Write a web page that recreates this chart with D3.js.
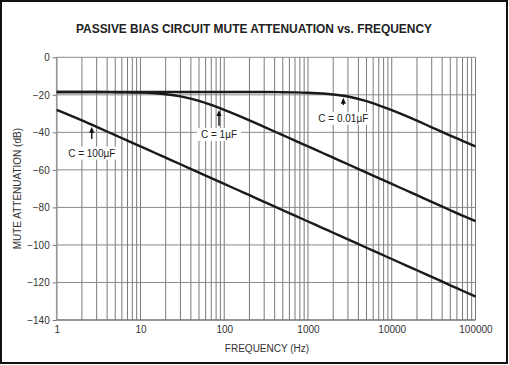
<!DOCTYPE html>
<html><head><meta charset="utf-8">
<script src="https://cdn.jsdelivr.net/npm/d3@7/dist/d3.min.js"></script>
<style>
html,body{margin:0;padding:0;background:#fff;}
svg{display:block;font-family:"Liberation Sans",Arial,sans-serif;}
</style></head>
<body>
<svg id="chart" width="509" height="365"></svg>
<script>
// ---- data ----
const title = "PASSIVE BIAS CIRCUIT MUTE ATTENUATION vs. FREQUENCY";
const xTitle = "FREQUENCY (Hz)";
const yTitle = "MUTE ATTENUATION (dB)";
const freq = [1,2,3,5,7,10,15,20,30,50,70,100,150,200,300,500,700,1000,1500,2000,3000,5000,7000,10000,15000,20000,30000,50000,70000,100000];
const c100uF = [-28.0,-33.6,-37.1,-41.5,-44.4,-47.5,-51.0,-53.5,-57.0,-61.5,-64.4,-67.5,-71.0,-73.5,-77.0,-81.5,-84.4,-87.5,-91.0,-93.5,-97.0,-101.5,-104.4,-107.5,-111.0,-113.5,-117.0,-121.5,-124.4,-127.5];
const c1uF = [-18.5,-18.5,-18.5,-18.6,-18.7,-18.8,-19.2,-19.7,-20.8,-23.2,-25.4,-28.0,-31.2,-33.6,-37.1,-41.5,-44.4,-47.5,-51.0,-53.5,-57.0,-61.5,-64.4,-67.5,-71.0,-73.5,-77.0,-81.5,-84.4,-87.3];
const c001uF = [-18.5,-18.5,-18.5,-18.5,-18.5,-18.5,-18.5,-18.5,-18.5,-18.5,-18.5,-18.5,-18.5,-18.5,-18.5,-18.6,-18.7,-18.9,-19.3,-19.8,-20.9,-23.4,-25.6,-28.2,-31.4,-33.8,-37.3,-41.7,-44.5,-47.5];
const series = [c100uF, c1uF, c001uF];
const xTicks = [1,10,100,1000,10000,100000];
const xTickLabels = ["1","10","100","1000","10000","100000"];
const yTicks = [0,-20,-40,-60,-80,-100,-120,-140];
// annotations: label, frequency of arrow, arrow tip dB, arrow tail dB, label centre dB
const annLabels = ["C = 100\u00b5F","C = 1\u00b5F","C = 0.01\u00b5F"];
const annFreq = [2.62, 86.6, 2642];
const annTip = [-37.0, -28.1, -21.5];
const annTail = [-43.6, -36.5, -25.4];
const annText = [-51.0, -41.1, -32.5];

// ---- layout ----
const svg = d3.select("#chart");
const x = d3.scaleLog().domain([1,100000]).range([56.7,475.5]);
const y = d3.scaleLinear().domain([0,-140]).range([57.3,320]);

// outer frame
svg.append("rect").attr("x",1).attr("y",1).attr("width",506).attr("height",362)
  .attr("fill","#fff").attr("stroke","#111").attr("stroke-width",2);

// title
svg.append("text").attr("x",254).attr("y",32.5).attr("text-anchor","middle")
  .attr("font-size",12).attr("font-weight","bold").attr("fill","#222")
  .attr("textLength",356).attr("lengthAdjust","spacingAndGlyphs").text(title);

// grid
const grid = svg.append("g");
const minor = [];
for (let d=1; d<100000; d*=10) for (let k=2;k<=9;k++) minor.push(d*k);
grid.selectAll("line.vminor").data(minor).enter().append("line")
  .attr("x1",d=>x(d)).attr("x2",d=>x(d)).attr("y1",y(0)).attr("y2",y(-140))
  .attr("stroke","#7a7a7a").attr("stroke-width",1);
grid.selectAll("line.vmajor").data(xTicks).enter().append("line")
  .attr("x1",d=>x(d)).attr("x2",d=>x(d)).attr("y1",y(0)).attr("y2",y(-140))
  .attr("stroke","#7a7a7a").attr("stroke-width",1);
grid.selectAll("line.h").data(yTicks).enter().append("line")
  .attr("x1",x(1)).attr("x2",x(100000)).attr("y1",d=>y(d)).attr("y2",d=>y(d))
  .attr("stroke","#8a8a8a").attr("stroke-width",1);
// left / bottom axis lines
svg.append("line").attr("x1",x(1)).attr("x2",x(1)).attr("y1",y(0)).attr("y2",y(-140))
  .attr("stroke","#999").attr("stroke-width",1.6);
svg.append("line").attr("x1",x(1)).attr("x2",x(100000)).attr("y1",y(-140)).attr("y2",y(-140))
  .attr("stroke","#666").attr("stroke-width",1.2);

// y axis ticks + labels
const yAxis = d3.axisLeft(y).tickValues(yTicks).tickSize(4).tickPadding(3).tickFormat(d3.format("d"));
const gy = svg.append("g").attr("transform",`translate(${x(1)},0)`).call(yAxis);
gy.select(".domain").remove();
gy.selectAll("line").attr("stroke","#777");
gy.selectAll("text").attr("font-size",10).attr("fill","#333").attr("font-family","Liberation Sans, Arial, sans-serif");

// x axis labels
const xAxis = d3.axisBottom(x).tickValues(xTicks).tickSize(0).tickPadding(6)
  .tickFormat((d,i)=>xTickLabels[i]);
const gx = svg.append("g").attr("transform",`translate(0,${y(-140)})`).call(xAxis);
gx.select(".domain").remove();
gx.selectAll("text").attr("font-size",10).attr("fill","#333").attr("font-family","Liberation Sans, Arial, sans-serif");

// axis titles
svg.append("text").attr("x",267).attr("y",352).attr("text-anchor","middle")
  .attr("font-size",10).attr("fill","#333").text(xTitle);
svg.append("text").attr("transform",`translate(20.5,${(y(0)+y(-140))/2}) rotate(-90)`)
  .attr("text-anchor","middle").attr("font-size",10).attr("fill","#333").text(yTitle);

// curves
const line = d3.line().x((d,i)=>x(freq[i])).y(d=>y(d)).curve(d3.curveMonotoneX);
svg.append("g").selectAll("path").data(series).enter().append("path")
  .attr("d",d=>line(d)).attr("fill","none").attr("stroke","#1a1a1a").attr("stroke-width",2.4);

// annotations
const ann = svg.append("g");
annLabels.forEach((lab,i)=>{
  const ax = x(annFreq[i]);
  const t = ann.append("text").attr("x",ax).attr("y",y(annText[i])+3.6)
    .attr("text-anchor","middle").attr("font-size",10).attr("fill","#222").text(lab);
  const bb = t.node().getBBox();
  ann.insert("rect","text").attr("x",bb.x-4).attr("y",bb.y-1).attr("width",bb.width+8).attr("height",bb.height+2).attr("fill","#fff");
  ann.append("line").attr("x1",ax).attr("x2",ax).attr("y1",y(annTail[i])).attr("y2",y(annTip[i])+5)
    .attr("stroke","#111").attr("stroke-width",1.4);
  const ty = y(annTip[i]);
  ann.append("path").attr("d",`M${ax},${ty} L${ax-2.6},${ty+6} L${ax+2.6},${ty+6} Z`).attr("fill","#111");
});
</script>
</body></html>
